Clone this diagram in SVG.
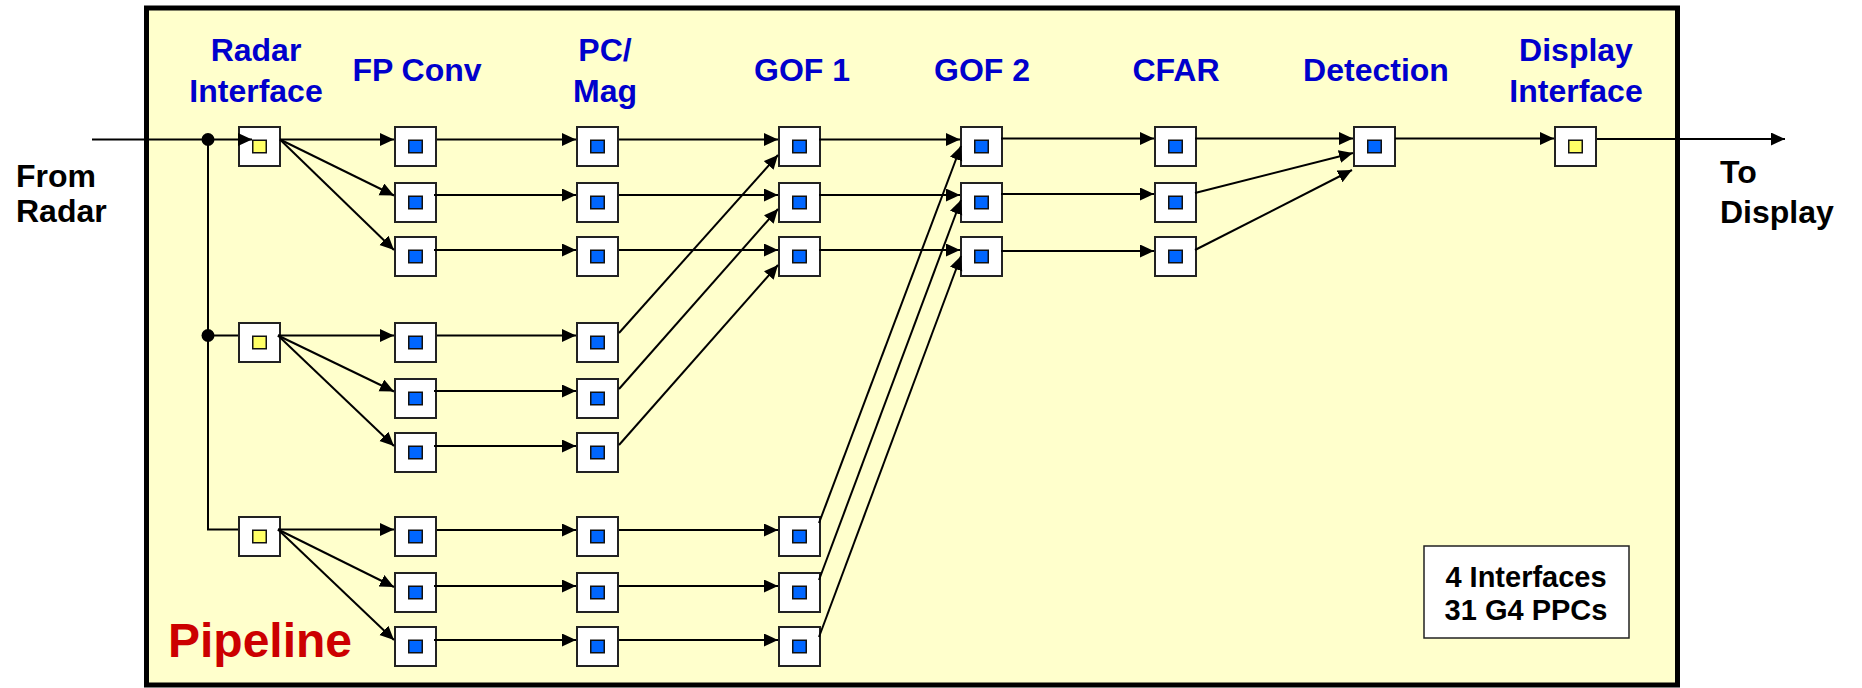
<svg xmlns="http://www.w3.org/2000/svg" width="1862" height="688" viewBox="0 0 1862 688">
  <style>
    .frame { fill: #FFFFCC; stroke: #000; stroke-width: 5; }
    .box { fill: #FFFFFF; stroke: #222; stroke-width: 2; }
    .cpu { fill: #0066FF; stroke: #111; stroke-width: 1.5; }
    .io { fill: #FFFF66; stroke: #111; stroke-width: 1.5; }
    .hdr { font-family: "Liberation Sans", Arial, sans-serif; font-weight: bold; font-size: 32px; fill: #0000CC; text-anchor: middle; }
    .ext { font-family: "Liberation Sans", Arial, sans-serif; font-weight: bold; font-size: 32px; fill: #000; }
    .title { font-family: "Liberation Sans", Arial, sans-serif; font-weight: bold; font-size: 48px; fill: #CC0000; }
    .note { font-family: "Liberation Sans", Arial, sans-serif; font-weight: bold; font-size: 29px; fill: #000; text-anchor: middle; }
    .notebox { fill: #FFFFFF; stroke: #222; stroke-width: 1.5; }
    .c { fill: none; stroke: #000; stroke-width: 2; }
    .a { marker-end: url(#arrow); }
  </style>
  <defs>
    <marker id="arrow" markerUnits="userSpaceOnUse" markerWidth="15" markerHeight="14" refX="14" refY="6.5" orient="auto">
      <path d="M0,0 L14,6.5 L0,13 Z" fill="#000"/>
    </marker>
    <!-- processor node: white card with blue chip -->
    <g id="proc">
      <rect class="box" x="1" y="1" width="41" height="39"/>
      <rect class="cpu" x="14.75" y="14.25" width="13.5" height="12.5"/>
    </g>
    <!-- interface node: white card with yellow chip -->
    <g id="iface">
      <rect class="box" x="1" y="1" width="41" height="39"/>
      <rect class="io" x="14.75" y="14.25" width="13.5" height="12.5"/>
    </g>
  </defs>

  <rect width="1862" height="688" fill="#FFFFFF"/>

  <!-- pipeline enclosure -->
  <rect class="frame" x="146.5" y="8" width="1531" height="677"/>

  <!-- stage headers -->
  <g id="headers">
    <text class="hdr" x="256" y="61">Radar</text>
    <text class="hdr" x="256" y="102">Interface</text>
    <text class="hdr" x="417" y="81">FP Conv</text>
    <text class="hdr" x="605" y="61">PC/</text>
    <text class="hdr" x="605" y="102">Mag</text>
    <text class="hdr" x="802" y="81">GOF 1</text>
    <text class="hdr" x="982" y="81">GOF 2</text>
    <text class="hdr" x="1176" y="81">CFAR</text>
    <text class="hdr" x="1376" y="81">Detection</text>
    <text class="hdr" x="1576" y="61">Display</text>
    <text class="hdr" x="1576" y="102">Interface</text>
  </g>

  <!-- external endpoints -->
  <g id="from-radar">
    <text class="ext" x="16" y="187">From</text>
    <text class="ext" x="16" y="222">Radar</text>
  </g>
  <g id="to-display">
    <text class="ext" x="1720" y="183">To</text>
    <text class="ext" x="1720" y="223">Display</text>
  </g>

  <text class="title" x="168" y="657">Pipeline</text>

  <g id="summary">
    <rect class="notebox" x="1424" y="546" width="205" height="92"/>
    <text class="note" x="1526" y="587">4 Interfaces</text>
    <text class="note" x="1526" y="620">31 G4 PPCs</text>
  </g>

  <!-- nodes -->
  <g id="radar-if-1"><use href="#iface" x="238" y="126"/></g>
  <g id="radar-if-2"><use href="#iface" x="238" y="322"/></g>
  <g id="radar-if-3"><use href="#iface" x="238" y="516"/></g>

  <g id="fp-1"><use href="#proc" x="394" y="126"/></g>
  <g id="fp-2"><use href="#proc" x="394" y="182"/></g>
  <g id="fp-3"><use href="#proc" x="394" y="236"/></g>
  <g id="fp-4"><use href="#proc" x="394" y="322"/></g>
  <g id="fp-5"><use href="#proc" x="394" y="378"/></g>
  <g id="fp-6"><use href="#proc" x="394" y="432"/></g>
  <g id="fp-7"><use href="#proc" x="394" y="516"/></g>
  <g id="fp-8"><use href="#proc" x="394" y="572"/></g>
  <g id="fp-9"><use href="#proc" x="394" y="626"/></g>

  <g id="pc-1"><use href="#proc" x="576" y="126"/></g>
  <g id="pc-2"><use href="#proc" x="576" y="182"/></g>
  <g id="pc-3"><use href="#proc" x="576" y="236"/></g>
  <g id="pc-4"><use href="#proc" x="576" y="322"/></g>
  <g id="pc-5"><use href="#proc" x="576" y="378"/></g>
  <g id="pc-6"><use href="#proc" x="576" y="432"/></g>
  <g id="pc-7"><use href="#proc" x="576" y="516"/></g>
  <g id="pc-8"><use href="#proc" x="576" y="572"/></g>
  <g id="pc-9"><use href="#proc" x="576" y="626"/></g>

  <g id="gof1-1"><use href="#proc" x="778" y="126"/></g>
  <g id="gof1-2"><use href="#proc" x="778" y="182"/></g>
  <g id="gof1-3"><use href="#proc" x="778" y="236"/></g>
  <g id="gof1-4"><use href="#proc" x="778" y="516"/></g>
  <g id="gof1-5"><use href="#proc" x="778" y="572"/></g>
  <g id="gof1-6"><use href="#proc" x="778" y="626"/></g>

  <g id="gof2-1"><use href="#proc" x="960" y="126"/></g>
  <g id="gof2-2"><use href="#proc" x="960" y="182"/></g>
  <g id="gof2-3"><use href="#proc" x="960" y="236"/></g>

  <g id="cfar-1"><use href="#proc" x="1154" y="126"/></g>
  <g id="cfar-2"><use href="#proc" x="1154" y="182"/></g>
  <g id="cfar-3"><use href="#proc" x="1154" y="236"/></g>

  <g id="detection"><use href="#proc" x="1353" y="126"/></g>
  <g id="display-if"><use href="#iface" x="1554" y="126"/></g>

  <!-- connectors -->
  <g id="connectors">
    <!-- input and distribution bus -->
    <line class="c a" x1="92" y1="139.5" x2="252" y2="139.5"/>
    <polyline class="c" points="208,139.5 208,529.5 238,529.5"/>
    <line class="c" x1="208" y1="335.5" x2="238" y2="335.5"/>
    <circle cx="208" cy="139.5" r="6.5" fill="#000"/>
    <circle cx="208" cy="335.5" r="6.5" fill="#000"/>

    <!-- radar interfaces to FP conversion -->
    <line class="c a" x1="280" y1="139.5" x2="394" y2="139.5"/>
    <line class="c a" x1="280" y1="139.5" x2="394" y2="195.5"/>
    <line class="c a" x1="280" y1="139.5" x2="394" y2="250"/>
    <line class="c a" x1="278" y1="335.5" x2="394" y2="335.5"/>
    <line class="c a" x1="278" y1="335.5" x2="394" y2="391.5"/>
    <line class="c a" x1="278" y1="335.5" x2="394" y2="446"/>
    <line class="c a" x1="278" y1="529.5" x2="394" y2="529.5"/>
    <line class="c a" x1="278" y1="529.5" x2="394" y2="587"/>
    <line class="c a" x1="278" y1="529.5" x2="394" y2="640"/>

    <!-- FP conversion to PC/Mag -->
    <line class="c a" x1="437" y1="139.5" x2="576" y2="139.5"/>
    <line class="c a" x1="434" y1="195" x2="576" y2="195"/>
    <line class="c a" x1="434" y1="250" x2="576" y2="250"/>
    <line class="c a" x1="437" y1="335.5" x2="576" y2="335.5"/>
    <line class="c a" x1="434" y1="391" x2="576" y2="391"/>
    <line class="c a" x1="434" y1="446" x2="576" y2="446"/>
    <line class="c a" x1="437" y1="530" x2="576" y2="530"/>
    <line class="c a" x1="434" y1="586" x2="576" y2="586"/>
    <line class="c a" x1="434" y1="640" x2="576" y2="640"/>

    <!-- PC/Mag to GOF 1 -->
    <line class="c a" x1="619" y1="139.5" x2="778" y2="139.5"/>
    <line class="c a" x1="619" y1="195" x2="778" y2="195"/>
    <line class="c a" x1="619" y1="250" x2="778" y2="250"/>
    <line class="c a" x1="619" y1="333" x2="778" y2="155"/>
    <line class="c a" x1="619" y1="389" x2="778" y2="209"/>
    <line class="c a" x1="619" y1="445" x2="778" y2="265"/>
    <line class="c a" x1="619" y1="530" x2="778" y2="530"/>
    <line class="c a" x1="619" y1="586" x2="778" y2="586"/>
    <line class="c a" x1="619" y1="640" x2="778" y2="640"/>

    <!-- GOF 1 to GOF 2 -->
    <line class="c a" x1="819" y1="139.5" x2="960" y2="139.5"/>
    <line class="c a" x1="819" y1="195" x2="960" y2="195"/>
    <line class="c a" x1="819" y1="250" x2="960" y2="250"/>
    <line class="c a" x1="819" y1="523" x2="961" y2="146"/>
    <line class="c a" x1="819" y1="580" x2="961" y2="200"/>
    <line class="c a" x1="819" y1="637" x2="961" y2="256"/>

    <!-- GOF 2 to CFAR -->
    <line class="c a" x1="1001" y1="138.5" x2="1154" y2="138.5"/>
    <line class="c a" x1="1001" y1="194" x2="1154" y2="194"/>
    <line class="c a" x1="1001" y1="251" x2="1154" y2="251"/>

    <!-- CFAR to detection -->
    <line class="c a" x1="1195" y1="138.5" x2="1353" y2="138.5"/>
    <line class="c a" x1="1195" y1="193" x2="1353" y2="153"/>
    <line class="c a" x1="1195" y1="250" x2="1352" y2="170"/>

    <!-- detection to display interface and out -->
    <line class="c a" x1="1395" y1="138.5" x2="1554" y2="138.5"/>
    <line class="c a" x1="1597" y1="139" x2="1785" y2="139"/>
  </g>
</svg>
